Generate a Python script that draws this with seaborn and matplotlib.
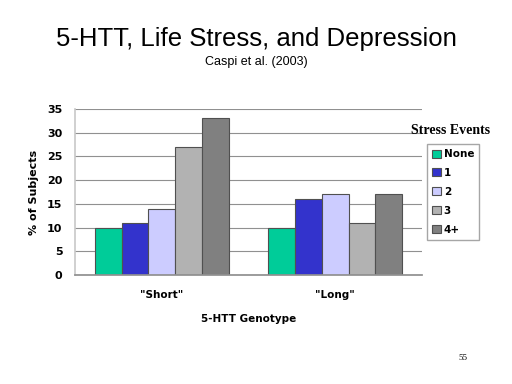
import matplotlib
matplotlib.use("Agg")
import matplotlib.pyplot as plt
import seaborn as sns
import pandas as pd

genotypes = ['"Short"', '"Long"']
stress_levels = ["None", "1", "2", "3", "4+"]
short_values = [10, 11, 14, 27, 33]
long_values = [10, 16, 17, 11, 17]
palette = ["#00CC99", "#3333CC", "#CCCCFF", "#B2B2B2", "#808080"]
y_ticks = [0, 5, 10, 15, 20, 25, 30, 35]

rows = []
for g, vals in zip(genotypes, [short_values, long_values]):
    for s, v in zip(stress_levels, vals):
        rows.append({"Genotype": g, "Stress": s, "Percent": v})
df = pd.DataFrame(rows)

sns.set_theme(style="white")
plt.rcParams["font.family"] = ["Liberation Sans", "DejaVu Sans"]
plt.rcParams["text.color"] = "black"
plt.rcParams["axes.labelcolor"] = "black"
plt.rcParams["xtick.color"] = "black"
plt.rcParams["ytick.color"] = "black"

fig = plt.figure(figsize=(5.12, 3.84), dpi=100)
ax = fig.add_axes([75/512, 1-275/384, (422-75)/512, (275-109)/384])

sns.barplot(data=df, x="Genotype", y="Percent", hue="Stress", order=genotypes,
            hue_order=stress_levels, palette=palette, width=0.77, gap=0,
            edgecolor="#505050", linewidth=0.8, saturation=1, ax=ax, legend=True)

ax.set_ylim(0, 35)
ax.set_xlim(-0.5, 1.5)
ax.set_yticks(y_ticks)
ax.set_yticklabels([str(t) for t in y_ticks], fontsize=8, fontweight="bold",
                   family="DejaVu Sans")
ax.yaxis.grid(True, color="#909090", linewidth=0.8)
ax.set_axisbelow(True)
ax.tick_params(axis="y", length=3, color="#909090", labelcolor="black", pad=6)
ax.set_xticks([0, 1])
ax.set_xticklabels(genotypes, fontsize=7.5, fontweight="bold", family="DejaVu Sans")
ax.tick_params(axis="x", which="major", length=0, pad=11, labelcolor="black")
ax.set_xticks([-0.5, 0.5, 1.5], minor=True)
ax.tick_params(axis="x", which="minor", length=4, color="#909090", direction="out")

for side in ["top", "right"]:
    ax.spines[side].set_visible(False)
ax.spines["left"].set_color("#C8C8C8")
ax.spines["left"].set_linewidth(1.2)
ax.spines["bottom"].set_color("#909090")

ax.set_ylabel("% of Subjects", fontsize=8, fontweight="bold", family="DejaVu Sans",
              labelpad=6, color="black")
ax.set_xlabel("5-HTT Genotype", fontsize=7.5, fontweight="bold", family="DejaVu Sans",
              labelpad=10, color="black")

handles, labels = ax.get_legend_handles_labels()
leg = ax.legend(handles, labels, loc="upper left", bbox_to_anchor=(427/512, 1-144/384),
                bbox_transform=fig.transFigure, frameon=True, fancybox=False,
                edgecolor="#909090",
                prop={"size": 7.5, "weight": "bold", "family": "DejaVu Sans"},
                handlelength=0.8, handleheight=0.8, handletextpad=0.3, borderpad=0.5,
                labelspacing=0.85, borderaxespad=0)
for t in leg.get_texts():
    t.set_color("black")

fig.text(451/512, 1-131/384, "Stress Events", ha="center", va="center",
         fontsize=10, fontweight="bold", family="Liberation Serif")
fig.text(0.5, 1-39/384, "5-HTT, Life Stress, and Depression", ha="center", va="center",
         fontsize=18.5)
fig.text(0.5, 1-62/384, "Caspi et al. (2003)", ha="center", va="center", fontsize=9)
fig.text(463/512, 1-358/384, "55", ha="center", va="center", fontsize=6.5,
         family="Liberation Serif")

fig.savefig("out.png", dpi=100)
